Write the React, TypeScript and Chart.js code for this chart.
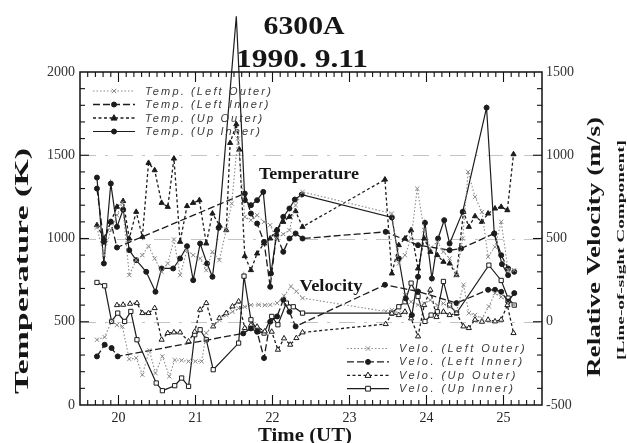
import React, { useEffect, useRef } from 'react';
import { Chart, registerables } from 'chart.js';

Chart.register(...registerables);

// ---- axes / labels ----
const hourTicks = [20, 21, 22, 23, 24, 25];
const tempTicks = [0, 500, 1000, 1500, 2000];
const veloTicks = [-500, 0, 500, 1000, 1500];
const gridTemps = [500, 1000, 1500];
const legendTemp = ['Temp. (Left Outer)', 'Temp. (Left Inner)', 'Temp. (Up Outer)', 'Temp. (Up Inner)'];
const legendVelo = ['Velo. (Left Outer)', 'Velo. (Left Inner)', 'Velo. (Up Outer)', 'Velo. (Up Inner)'];

// ---- Temperature (K) ----
const tLeftOuterTime = [19.72, 19.81, 19.90, 19.98, 20.05, 20.14, 20.23, 20.31, 20.39, 20.47,
  20.56, 20.64, 20.72, 20.80, 20.89, 20.97, 21.06, 21.14, 21.22, 21.31,
  21.40, 21.47, 21.55, 21.64, 21.72, 21.80, 21.89, 21.97, 22.05, 22.14,
  22.22, 22.30, 22.39, 23.55, 23.64, 23.72, 23.80, 23.88, 23.97, 24.05,
  24.14, 24.22, 24.30, 24.39, 24.47, 24.54, 24.63, 24.72, 24.80, 24.89,
  24.97, 25.06, 25.14];
const tLeftOuter = [1066, 900, 1050, 1140, 1214, 780, 870, 900, 954, 880,
  800, 850, 994, 780, 930, 900, 880, 810, 920, 870,
  1054, 1210, 1600, 1130, 1110, 1140, 1100, 1080, 1000, 1026,
  1050, 1200, 1280, 1150, 850, 900, 1000, 1300, 1050, 940,
  980, 920, 880, 780, 1000, 1400, 1250, 1160, 890, 950,
  1100, 810, 810];

const tLeftInnerTime = [19.72, 19.81, 19.90, 19.98, 21.64, 21.72, 21.80, 21.89, 21.97, 22.05,
  22.14, 22.22, 22.30, 22.39, 23.47, 23.89, 24.30, 24.45, 24.88, 24.97, 25.06, 25.14];
const tLeftInner = [1300, 980, 1100, 946, 1270, 1150, 1090, 980, 710, 1020,
  920, 1000, 1030, 1000, 1040, 960, 930, 940, 1030, 900, 820, 800];

const tUpOuterTime = [19.72, 19.81, 19.90, 19.98, 20.06, 20.14, 20.23, 20.31, 20.39, 20.47,
  20.56, 20.64, 20.72, 20.80, 20.89, 20.97, 21.05, 21.14, 21.22, 21.31,
  21.40, 21.45, 21.53, 21.57, 21.64, 21.72, 21.80, 21.89, 21.97, 22.05,
  22.14, 22.22, 22.30, 22.39, 23.46, 23.55, 23.64, 23.72, 23.80, 23.89,
  23.97, 24.05, 24.14, 24.22, 24.30, 24.39, 24.48, 24.55, 24.63, 24.72,
  24.80, 24.89, 24.97, 25.05, 25.13];
const tUpOuter = [1080, 1000, 1100, 1190, 1225, 1000, 1160, 1010, 1454, 1410,
  1214, 1190, 1480, 980, 1195, 1214, 1230, 970, 1150, 1080,
  1050, 1574, 1686, 1534, 894, 810, 910, 970, 1000, 1050,
  1100, 1130, 1164, 1070, 1354, 790, 960, 1000, 1050, 820,
  1000, 920, 900, 860, 850, 780, 1160, 1070, 1134, 1100,
  1150, 1180, 1190, 1170, 1506];

const tUpInnerTime = [19.72, 19.81, 19.90, 19.98, 20.06, 20.14, 20.23, 20.36, 20.48, 20.56,
  20.71, 20.80, 20.89, 20.97, 21.06, 21.15, 21.22, 21.30, 21.53, 21.56,
  21.64, 21.72, 21.80, 21.88, 21.98, 22.06, 22.14, 22.22, 22.29, 22.38,
  23.55, 23.64, 23.73, 23.81, 23.89, 23.98, 24.07, 24.15, 24.23, 24.30,
  24.47, 24.78, 24.88, 24.98, 25.06];
const tUpInner = [1366, 850, 1330, 1070, 1174, 930, 870, 800, 680, 820,
  820, 880, 954, 750, 970, 850, 770, 1064, 2335, 2042,
  1230, 1200, 1230, 1280, 790, 1050, 1130, 1180, 1234, 1264,
  1126, 880, 640, 540, 770, 1094, 760, 1000, 1110, 970,
  1160, 1786, 1030, 846, 780];

// ---- Relative velocity (m/s) ----
const vLeftOuterTime = [19.72, 19.82, 19.91, 19.98, 20.05, 20.14, 20.23, 20.31, 20.40, 20.48,
  20.57, 20.66, 20.73, 20.82, 20.91, 21.00, 21.08, 21.14, 21.23, 21.31,
  21.40, 21.48, 21.56, 21.64, 21.72, 21.82, 21.90, 21.97, 22.06, 22.15,
  22.24, 22.31, 22.39, 23.47, 23.55, 23.64, 23.72, 23.80, 23.89, 23.97,
  24.05, 24.14, 24.22, 24.30, 24.39, 24.48, 24.55, 24.63, 24.72, 24.81,
  24.89, 24.97, 25.06, 25.14];
const vLeftOuter = [-108, -92, 2, -20, -28, -224, -218, -318, -172, -308,
  -208, -328, -230, -232, -238, -238, -238, -68, -20, 10,
  40, 60, 80, 90, 100, 102, 100, 102, 112, 156,
  212, 182, 142, 62, 70, 50, 162, 120, 102, 110,
  130, 100, 110, 90, 60, 222, 52, 40, 20, 92,
  172, 150, 112, 100];

const vLeftInnerTime = [19.72, 19.82, 19.91, 19.99, 21.62, 21.72, 21.80, 21.89, 21.97, 22.06,
  22.14, 22.22, 22.30, 23.46, 23.89, 24.39, 24.80, 24.89, 24.97, 25.06, 25.14];
const vLeftInner = [-208, -138, -158, -208, -70, -40, -60, -218, 0, 32,
  132, 60, -28, 222, 182, 112, 192, 192, 180, 122, 172];

const vUpOuterTime = [19.98, 20.06, 20.15, 20.24, 20.31, 20.39, 20.47, 20.56, 20.64, 20.72,
  20.80, 20.91, 20.99, 21.06, 21.14, 21.23, 21.31, 21.40, 21.48, 21.56,
  21.64, 21.72, 21.80, 21.90, 21.99, 22.07, 22.15, 22.23, 22.31, 22.39,
  23.47, 23.55, 23.64, 23.72, 23.80, 23.89, 23.97, 24.05, 24.13, 24.22,
  24.30, 24.39, 24.48, 24.55, 24.63, 24.72, 24.80, 24.89, 24.97, 25.05,
  25.13];
const vUpOuter = [100, 102, 108, 112, 52, 52, 82, -108, -68, -64,
  -64, -118, -60, 72, 112, -28, 22, 52, 92, 122,
  -38, -20, -30, -58, -60, -168, -100, -138, -98, -64,
  -14, 50, 40, 60, 20, -88, 100, 192, 28, 60,
  40, 52, -28, -38, 12, 0, 12, 2, 12, 100,
  -68];

const vUpInnerTime = [19.72, 19.82, 19.91, 19.99, 20.08, 20.16, 20.24, 20.49, 20.57, 20.73,
  20.82, 20.91, 20.99, 21.06, 21.14, 21.23, 21.56, 21.63, 21.72, 21.81,
  21.89, 21.99, 22.07, 22.18, 22.27, 22.39, 23.55, 23.64, 23.72, 23.80,
  23.89, 23.98, 24.06, 24.14, 24.22, 24.30, 24.39, 24.81, 24.97, 25.06,
  25.14];
const vUpInner = [236, 216, 2, 52, 2, 62, -108, -368, -414, -384,
  -338, -388, -78, -48, -108, -288, -128, 274, 12, -58,
  -68, 32, -18, 112, 90, 52, 52, 90, 120, 232,
  152, 2, 40, 60, 242, 100, 52, 340, 248, 142,
  100];

// ---- styles ----
const DARK = '#1c1c1c';
const GRAY = '#8a8a8a';
const styleLO = { color: GRAY, width: 1.1, dash: [1.5, 2], point: 'crossRot', r: 3 };
const styleLI = { color: DARK, width: 1.3, dash: [7, 3], point: 'circle', r: 2.5 };
const styleUO = { color: DARK, width: 1.3, dash: [3, 2.5], point: 'triangle', r: 3 };
const styleUI = { color: DARK, width: 1.2, dash: [] as number[], point: 'circle', r: 2.5 };
const styleUIv = { color: DARK, width: 1.2, dash: [] as number[], point: 'rect', r: 3 };

function series(label: string, times: number[], vals: number[], axis: string, st: any, fill: string) {
  return {
    label,
    data: times.map((t, i) => ({ x: t, y: vals[i] })),
    yAxisID: axis,
    borderColor: st.color,
    borderWidth: st.width,
    borderDash: st.dash,
    pointStyle: st.point,
    pointRadius: st.r,
    pointBorderColor: st.color,
    pointBackgroundColor: fill,
    pointBorderWidth: 1,
    tension: 0,
    fill: false,
    clip: false as any,
  };
}

function drawMarker(ctx: CanvasRenderingContext2D, kind: string, x: number, y: number, r: number, color: string, fill: string) {
  ctx.save();
  ctx.setLineDash([]);
  ctx.strokeStyle = color;
  ctx.fillStyle = fill;
  ctx.lineWidth = 1;
  ctx.beginPath();
  if (kind === 'circle') {
    ctx.arc(x, y, r, 0, Math.PI * 2);
    ctx.fill(); ctx.stroke();
  } else if (kind === 'triangle') {
    ctx.moveTo(x, y - r * 1.1);
    ctx.lineTo(x + r, y + r * 0.7);
    ctx.lineTo(x - r, y + r * 0.7);
    ctx.closePath();
    ctx.fill(); ctx.stroke();
  } else if (kind === 'rect') {
    ctx.rect(x - r * 0.8, y - r * 0.8, r * 1.6, r * 1.6);
    ctx.fill(); ctx.stroke();
  } else {
    const d = r * 0.75;
    ctx.moveTo(x - d, y - d); ctx.lineTo(x + d, y + d);
    ctx.moveTo(x + d, y - d); ctx.lineTo(x - d, y + d);
    ctx.stroke();
  }
  ctx.restore();
}

function stretchText(ctx: CanvasRenderingContext2D, text: string, cx: number, cy: number, font: string, len: number, rot: number) {
  ctx.save();
  ctx.font = font;
  const w = ctx.measureText(text).width;
  ctx.translate(cx, cy);
  ctx.rotate(rot);
  ctx.scale(len / w, 1);
  ctx.textAlign = 'center';
  ctx.textBaseline = 'middle';
  ctx.fillText(text, 0, 0);
  ctx.restore();
}

const decorPlugin = {
  id: 'decor',
  beforeDatasetsDraw(chart: any) {
    const ctx = chart.ctx as CanvasRenderingContext2D;
    const { left, right } = chart.chartArea;
    const yL = chart.scales.y;
    ctx.save();
    ctx.strokeStyle = '#c4c4c4';
    ctx.lineWidth = 1;
    ctx.setLineDash([16, 9, 3, 9]);
    gridTemps.forEach((v) => {
      const py = Math.round(yL.getPixelForValue(v)) + 0.5;
      ctx.beginPath(); ctx.moveTo(left, py); ctx.lineTo(right, py); ctx.stroke();
    });
    ctx.restore();
  },
  afterDraw(chart: any) {
    const ctx = chart.ctx as CanvasRenderingContext2D;
    const { left, right, top, bottom } = chart.chartArea;
    const sx = chart.scales.x, yL = chart.scales.y, yR = chart.scales.y2;
    ctx.save();
    ctx.setLineDash([]);
    ctx.strokeStyle = '#111';
    // frame
    ctx.lineWidth = 1.5;
    ctx.strokeRect(left, top, right - left, bottom - top);
    // ticks
    ctx.lineWidth = 1.1;
    const line = (a: number, b: number, c: number, d: number) => { ctx.beginPath(); ctx.moveTo(a, b); ctx.lineTo(c, d); ctx.stroke(); };
    for (let k = 196; k <= 254; k++) {
      const px = sx.getPixelForValue(k / 10);
      const len = k % 10 === 0 ? 10 : 5;
      line(px, bottom, px, bottom - len);
      line(px, top, px, top + len);
    }
    for (let v = 100; v < 2000; v += 100) {
      const py = yL.getPixelForValue(v);
      line(left, py, left + (v % 500 === 0 ? 9 : 5), py);
    }
    for (let v = -400; v < 1500; v += 100) {
      const py = yR.getPixelForValue(v);
      line(right, py, right - (v % 500 === 0 ? 9 : 5), py);
    }
    // texts
    ctx.fillStyle = '#161616';
    stretchText(ctx, '6300A', 304, 27, 'bold 26px "Liberation Serif"', 81, 0);
    stretchText(ctx, '1990. 9.11', 302, 60, 'bold 26px "Liberation Serif"', 132, 0);
    stretchText(ctx, 'Temperature (K)', 23, 271, 'bold 18px "Liberation Serif"', 246, -Math.PI / 2);
    stretchText(ctx, 'Time (UT)', 305, 436, 'bold 18px "Liberation Serif"', 94, 0);
    stretchText(ctx, 'Relative Velocity (m/s)', 595, 247, 'bold 18px "Liberation Serif"', 260, -Math.PI / 2);
    stretchText(ctx, '[Line-of-sight Component]', 621, 250, 'bold 11px "Liberation Serif"', 220, -Math.PI / 2);
    stretchText(ctx, 'Temperature', 309, 175, 'bold 16px "Liberation Serif"', 100, 0);
    stretchText(ctx, 'Velocity', 331, 287, 'bold 16px "Liberation Serif"', 63, 0);

    // legends
    const styles = [styleLO, styleLI, styleUO, styleUI];
    const drawLegend = (labels: string[], x0: number, y0: number, dy: number, velo: boolean) => {
      ctx.save();
      ctx.font = 'italic 11px "Liberation Sans"';
      const base = ctx.measureText(labels[0]).width;
      const ls = Math.max(0, (128 - base) / labels[0].length);
      labels.forEach((lab, i) => {
        const st = i === 3 && velo ? styleUIv : styles[i];
        const y = y0 + i * dy;
        ctx.save();
        ctx.strokeStyle = st.color;
        ctx.lineWidth = st.width;
        ctx.setLineDash(st.dash);
        ctx.beginPath(); ctx.moveTo(x0, y); ctx.lineTo(x0 + 42, y); ctx.stroke();
        ctx.restore();
        const fill = velo && (i === 2 || i === 3) ? '#ffffff' : st.color;
        drawMarker(ctx, st.point, x0 + 21, y, st.r, st.color, fill);
        ctx.fillStyle = '#3a3a3a';
        (ctx as any).letterSpacing = ls.toFixed(2) + 'px';
        ctx.textAlign = 'left';
        ctx.textBaseline = 'middle';
        ctx.fillText(lab, x0 + 52, y + 0.5);
      });
      ctx.restore();
    };
    drawLegend(legendTemp, left + 13, top + 19, 13.5, false);
    drawLegend(legendVelo, 347, 348.5, 13.4, true);
    ctx.restore();
  },
};

export default function App() {
  const ref = useRef<HTMLCanvasElement>(null);
  useEffect(() => {
    if (!ref.current) return;
    const datasets = [
      series('Temp. (Left Outer)', tLeftOuterTime, tLeftOuter, 'y', styleLO, GRAY),
      series('Temp. (Left Inner)', tLeftInnerTime, tLeftInner, 'y', styleLI, DARK),
      series('Temp. (Up Outer)', tUpOuterTime, tUpOuter, 'y', styleUO, DARK),
      series('Temp. (Up Inner)', tUpInnerTime, tUpInner, 'y', styleUI, DARK),
      series('Velo. (Left Outer)', vLeftOuterTime, vLeftOuter, 'y2', styleLO, GRAY),
      series('Velo. (Left Inner)', vLeftInnerTime, vLeftInner, 'y2', styleLI, DARK),
      series('Velo. (Up Outer)', vUpOuterTime, vUpOuter, 'y2', styleUO, '#ffffff'),
      series('Velo. (Up Inner)', vUpInnerTime, vUpInner, 'y2', styleUIv, '#ffffff'),
    ];
    const tickFont = { family: '"Liberation Serif"', size: 14 };
    const chart = new Chart(ref.current, {
      type: 'line',
      data: { datasets: datasets as any },
      plugins: [decorPlugin as any],
      options: {
        responsive: false,
        animation: false,
        devicePixelRatio: 1,
        layout: { padding: { top: 72, left: 0, right: 0, bottom: 0 } },
        plugins: { legend: { display: false }, tooltip: { enabled: false }, title: { display: false } },
        scales: {
          x: {
            type: 'linear', position: 'bottom', min: 19.5, max: 25.5,
            grid: { display: false, drawTicks: false }, border: { display: false },
            afterBuildTicks: (s: any) => { s.ticks = hourTicks.map((v) => ({ value: v })); },
            afterFit: (s: any) => { s.height = 38; },
            ticks: { font: tickFont, color: '#222', padding: 5, maxRotation: 0, autoSkip: false, callback: (v: any) => String(v) },
          },
          y: {
            type: 'linear', position: 'left', min: 0, max: 2000,
            grid: { display: false, drawTicks: false }, border: { display: false },
            afterBuildTicks: (s: any) => { s.ticks = tempTicks.map((v) => ({ value: v })); },
            afterFit: (s: any) => { s.width = 80; },
            ticks: { font: tickFont, color: '#333', padding: 5, autoSkip: false, callback: (v: any) => String(v) },
          },
          y2: {
            type: 'linear', position: 'right', min: -500, max: 1500,
            grid: { display: false, drawTicks: false }, border: { display: false },
            afterBuildTicks: (s: any) => { s.ticks = veloTicks.map((v) => ({ value: v })); },
            afterFit: (s: any) => { s.width = 85; },
            ticks: { font: tickFont, color: '#333', padding: 4, autoSkip: false, callback: (v: any) => String(v) },
          },
        },
      } as any,
    });
    return () => chart.destroy();
  }, []);
  return (
    <div style={{ position: 'fixed', left: 0, top: 0, width: 627, height: 443, background: '#fff' }}>
      <canvas ref={ref} width={627} height={443} style={{ display: 'block' }} />
    </div>
  );
}
